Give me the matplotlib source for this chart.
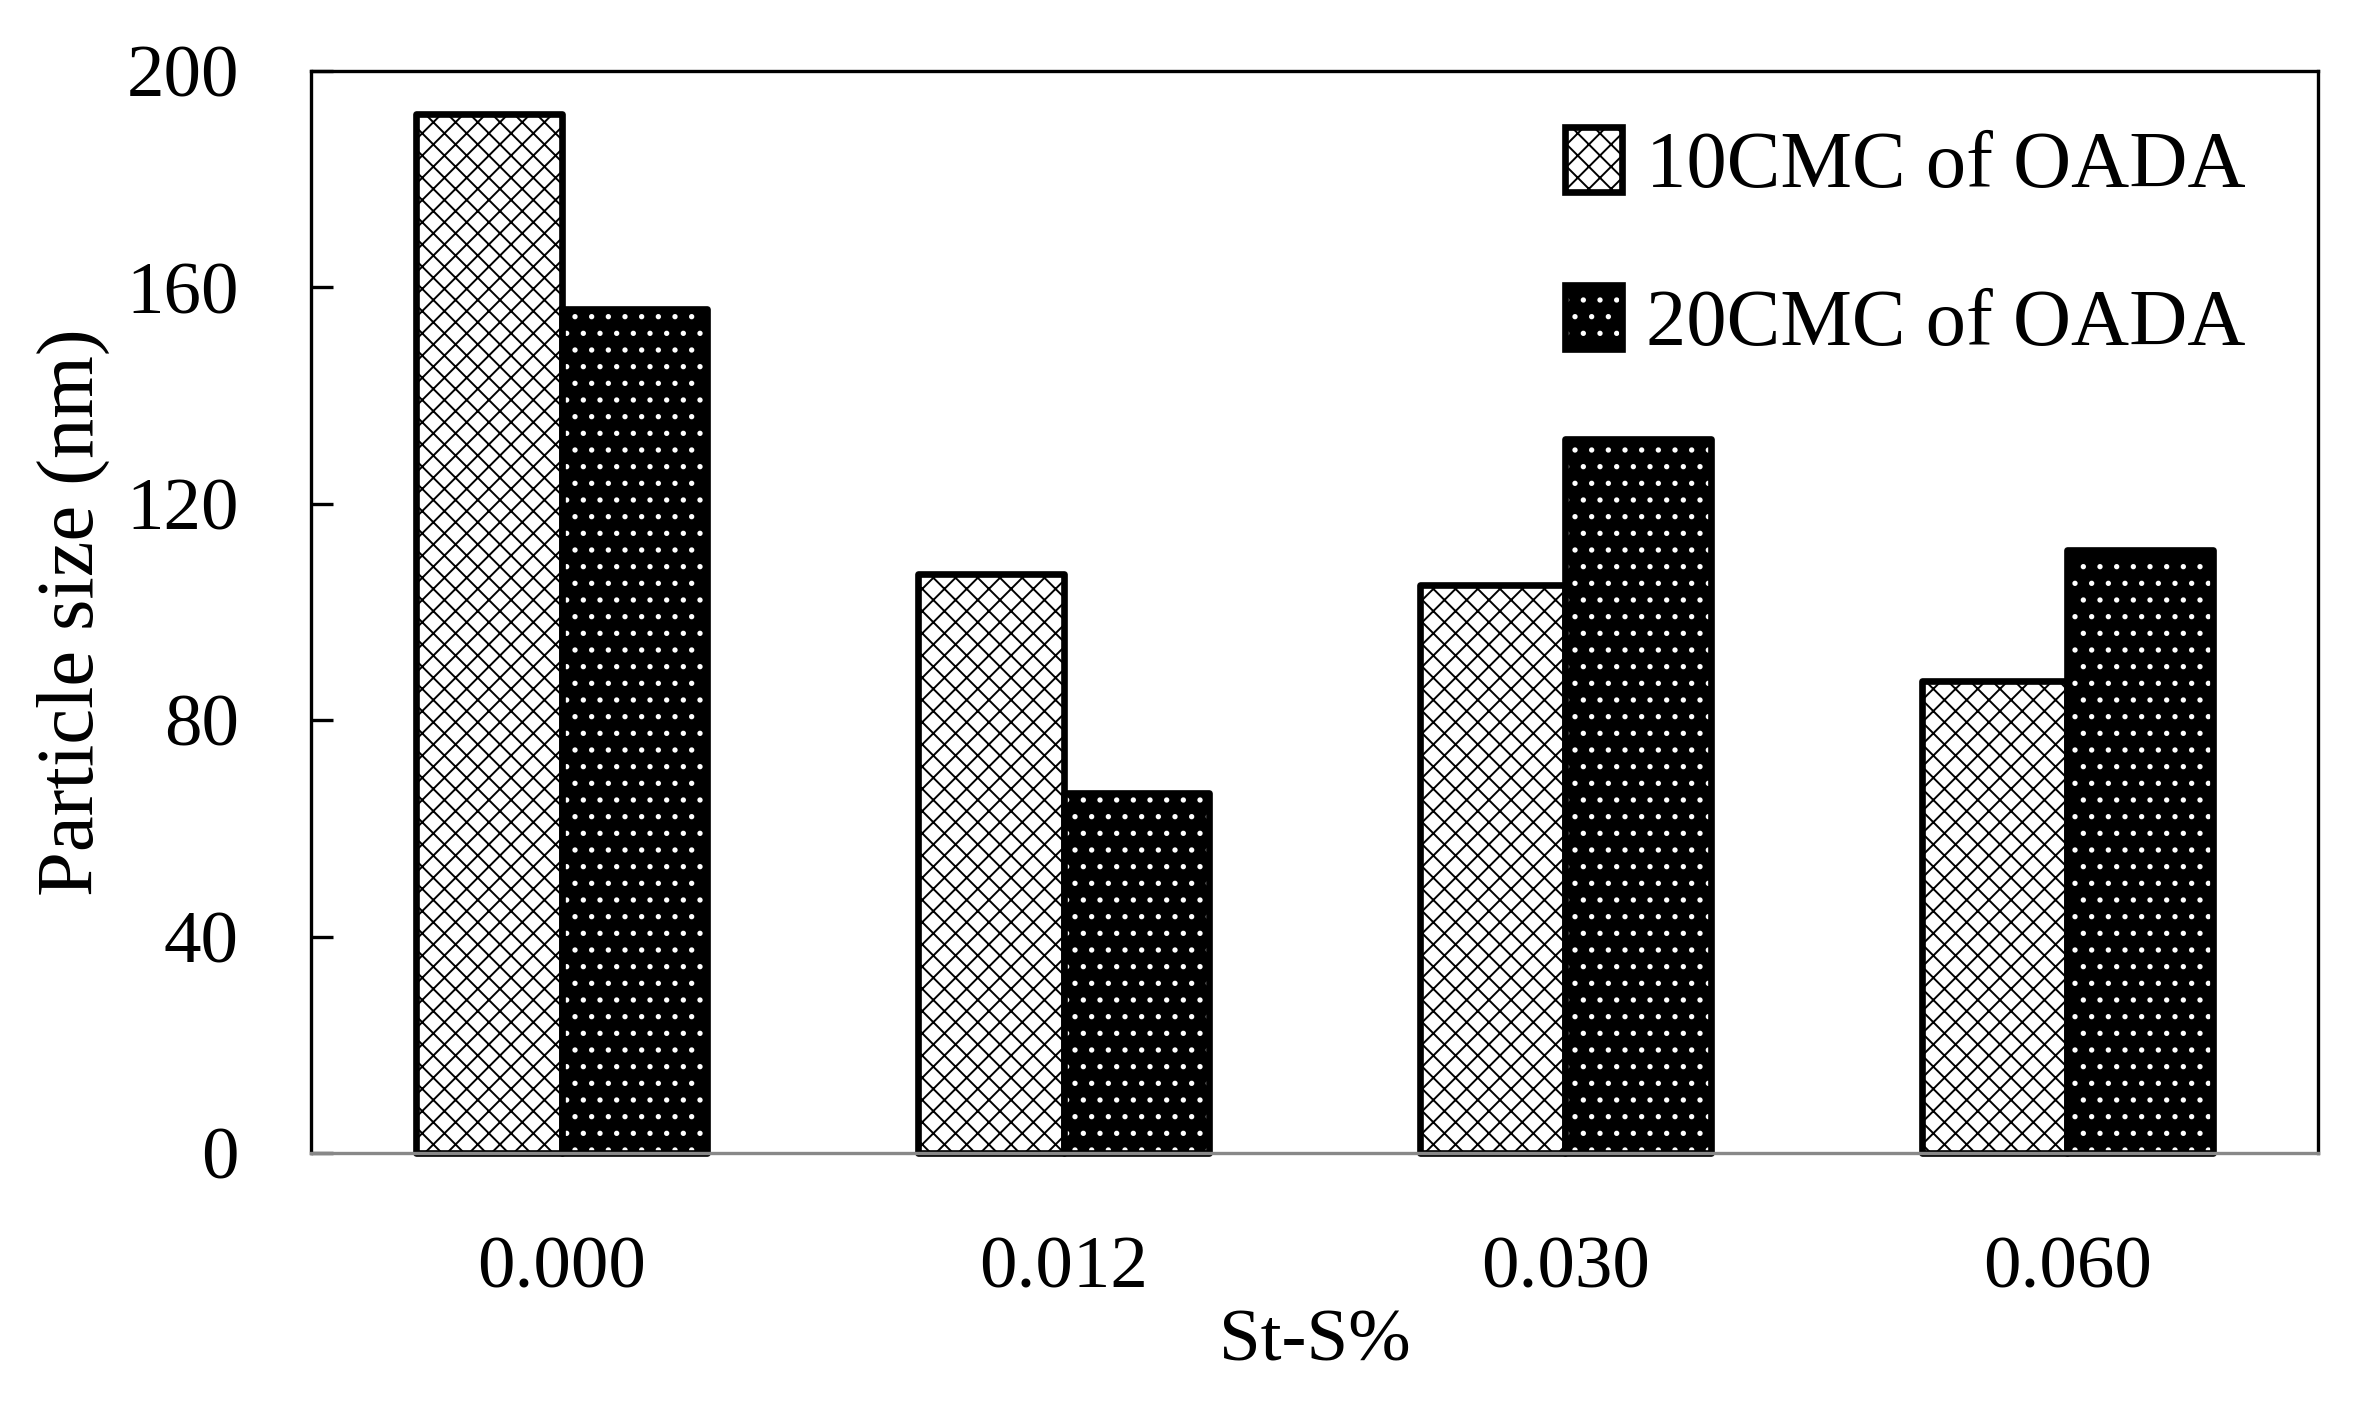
import matplotlib
matplotlib.use('Agg')
import matplotlib.pyplot as plt
import numpy as np

# 数据
categories = ['0.000', '0.012', '0.030', '0.060']
cmc10 = [192, 107, 105, 87.3]
cmc20 = [156, 66.5, 132, 111.5]
y_ticks = [0, 40, 80, 120, 160, 200]
labels = ['10CMC of OADA', '20CMC of OADA']

plt.rcParams['font.family'] = ['Liberation Serif', 'DejaVu Serif']
plt.rcParams['hatch.linewidth'] = 0.7

fig = plt.figure(figsize=(11.8, 7.075), dpi=200)
ax = fig.add_axes([0.1318, 0.1852, 0.8504, 0.7646])

x = np.arange(len(categories))
w = 0.29

# 10CMC: 白底黑色交叉线
b1 = ax.bar(x - w / 2, cmc10, w, color='white', edgecolor='black', hatch='xxx',
            linewidth=2.4, joinstyle='round', clip_on=False)
# 20CMC: 黑底白点，再叠加黑色边框
b2 = ax.bar(x + w / 2, cmc20, w, color='black', edgecolor='white', hatch='..',
            linewidth=0, clip_on=False)
b2e = ax.bar(x + w / 2, cmc20, w, fill=False, edgecolor='black',
             linewidth=2.4, joinstyle='round', clip_on=False)

ax.set_xlim(-0.5, 3.5)
ax.set_ylim(0, 200)
ax.set_xticks(x)
ax.set_xticklabels(categories)
ax.set_yticks(y_ticks)

ax.tick_params(axis='y', direction='in', length=8, width=1.2, labelsize=27, pad=26)
ax.tick_params(axis='x', length=0, labelsize=27, pad=30)

for s in ['left', 'top', 'right']:
    ax.spines[s].set_linewidth(1.2)
    ax.spines[s].set_color('black')
ax.spines['bottom'].set_color('#888888')
ax.spines['bottom'].set_linewidth(1.2)

ax.set_ylabel('Particle size (nm)', fontsize=29, labelpad=6)
ax.set_xlabel('St-S%', fontsize=27, labelpad=2)

ax.legend([b1[0], (b2[0], b2e[0])], labels, frameon=False, fontsize=29,
          loc='upper right', bbox_to_anchor=(1.0, 1.015),
          handlelength=0.7, handleheight=0.85, handletextpad=0.3,
          labelspacing=1.0)

plt.savefig('out.png', dpi=200)
